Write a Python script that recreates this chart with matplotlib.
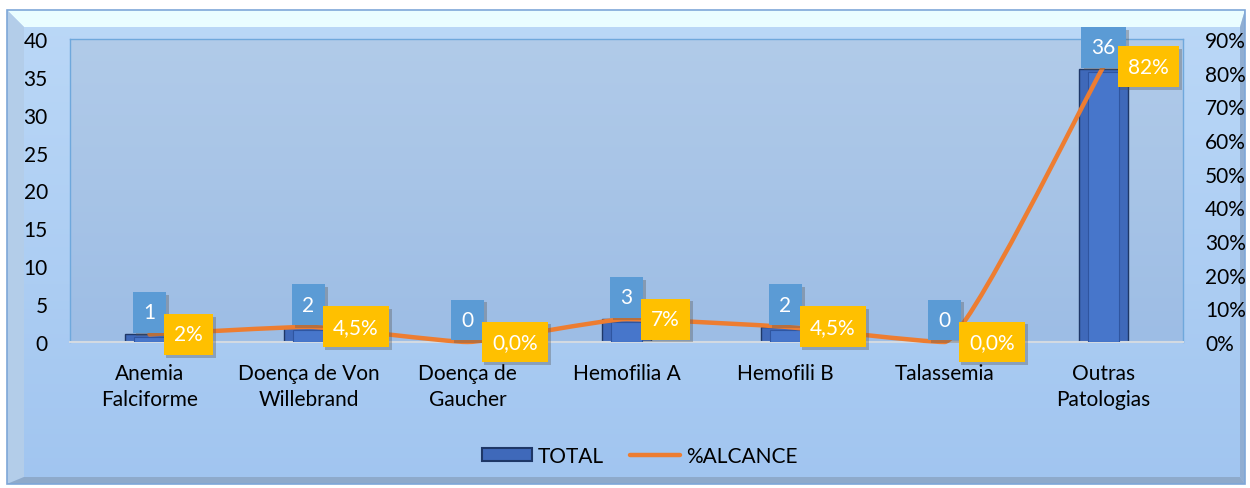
import matplotlib
matplotlib.use("Agg")
import matplotlib.pyplot as plt
import numpy as np
from matplotlib.path import Path
from matplotlib.patches import PathPatch, Polygon, Rectangle, Patch
from matplotlib.lines import Line2D
from matplotlib.colors import LinearSegmentedColormap
import matplotlib.patheffects as pe

categories = ["Anemia\nFalciforme", "Doença de Von\nWillebrand", "Doença de\nGaucher",
              "Hemofilia A", "Hemofili B", "Talassemia", "Outras\nPatologias"]
total = [1, 2, 0, 3, 2, 0, 36]
alcance = [0.0227, 0.045, 0.0, 0.068, 0.045, 0.0, 0.818]
alcance_labels = ["2%", "4,5%", "0,0%", "7%", "4,5%", "0,0%", "82%"]
left_ticks = [0, 5, 10, 15, 20, 25, 30, 35, 40]
right_ticks = [0, 0.1, 0.2, 0.3, 0.4, 0.5, 0.6, 0.7, 0.8, 0.9]
right_tick_labels = ["0%", "10%", "20%", "30%", "40%", "50%", "60%", "70%", "80%", "90%"]

W, H = 1250, 489
FONT = "Lato"
FS = 15
plt.rcParams['font.family'] = [FONT, 'DejaVu Sans']

fig = plt.figure(figsize=(W / 100, H / 100), dpi=100)
fig.patch.set_facecolor("white")

# background (chart area) in pixel coordinates
bg = fig.add_axes([0, 0, 1, 1])
bg.set_xlim(0, W)
bg.set_ylim(H, 0)
bg.axis("off")
x0, y0, x1, y1 = 7, 11, 1245, 485
grad = np.linspace(0, 1, 256).reshape(-1, 1)
cm_out = LinearSegmentedColormap.from_list("o", ["#BBD8F7", "#A1C5F0"])
bg.imshow(grad, cmap=cm_out, extent=(x0, x1, y1, y0), aspect="auto", zorder=0)
bt = 17
bg.add_patch(Polygon([(x0, y0), (x1, y0), (x1 - 5, y0 + bt), (x0 + bt, y0 + bt)],
                     closed=True, facecolor="#EAFDFF", edgecolor="none", zorder=1))
bg.add_patch(Polygon([(x0, y0), (x0 + bt, y0 + bt), (x0 + bt, y1 - 7), (x0, y1)],
                     closed=True, facecolor="#B3CDE9", edgecolor="none", zorder=1))
bg.add_patch(Polygon([(x0, y1), (x0 + bt, y1 - 7), (x1 - 5, y1 - 7), (x1, y1)],
                     closed=True, facecolor="#8EAACB", edgecolor="none", zorder=1))
bg.add_patch(Polygon([(x1, y0), (x1, y1), (x1 - 5, y1 - 7), (x1 - 5, y0 + bt)],
                     closed=True, facecolor="#90AED2", edgecolor="none", zorder=1))
bg.add_patch(Rectangle((x0, y0), x1 - x0, y1 - y0, facecolor="none",
                       edgecolor="#7EA7D8", lw=1.2, zorder=2))

# plot area
pl, pr, pt, pb = 70, 1183, 40, 343
ax = fig.add_axes([pl / W, (H - pb) / H, (pr - pl) / W, (pb - pt) / H])
ax.patch.set_alpha(0)
n = len(categories)
xs = np.arange(n)
ax.set_xlim(-0.5, n - 0.5)
ax.set_ylim(0, 40)
cm_in = LinearSegmentedColormap.from_list("i", ["#B1CBE9", "#9DBDE5"])
ax.imshow(grad, cmap=cm_in, extent=(-0.5, n - 0.5, 0, 40), aspect="auto", zorder=0)

bw = 0.31
ax.bar(xs, total, width=bw, color="#3F69BA", edgecolor="#1E3767", linewidth=1.0, zorder=2)
ax.bar(xs, [max(v - 0.35, 0) for v in total], width=bw * 0.62, color="#4776CB",
       edgecolor="#2F55A0", linewidth=0.8, zorder=3)

ax.set_yticks(left_ticks)
ax.set_yticklabels([str(t) for t in left_ticks], fontsize=FS, fontfamily=FONT, color="black")
ax.set_xticks(xs)
ax.set_xticklabels(categories, fontsize=FS, fontfamily=FONT, color="black", linespacing=1.4)
ax.tick_params(axis="both", length=0)
ax.tick_params(axis="y", pad=16)
ax.tick_params(axis="x", pad=15)
for s in ["left", "top", "right"]:
    ax.spines[s].set_color("#6FA8DC")
    ax.spines[s].set_linewidth(1.0)
ax.spines["bottom"].set_color("#D3DAE2")
ax.spines["bottom"].set_linewidth(1.5)

ax2 = ax.twinx()
ax2.set_ylim(0, 0.9)
ax2.set_yticks(right_ticks)
ax2.set_yticklabels(right_tick_labels, fontsize=FS, fontfamily=FONT, color="black")
ax2.tick_params(axis="y", length=0, pad=16)
for s in ax2.spines.values():
    s.set_visible(False)

# lightly smoothed line (cubic Bezier with limited tangents) in pixel-proportional space
sx = (pr - pl) / n
sy = (pb - pt) / 0.9
P = np.array([[x * sx, y * sy] for x, y in zip(xs, alcance)])
tang = []
for i in range(n):
    a = P[i - 1] if i > 0 else P[i]
    b = P[i + 1] if i + 1 < n else P[i]
    d = b - a
    if 0 < i < n - 1 and (P[i - 1][1] - P[i][1]) * (P[i + 1][1] - P[i][1]) >= 0:
        d = np.array([d[0], 0.0])  # local extremum -> flat tangent
    nd = np.linalg.norm(d)
    segs = []
    if i > 0:
        segs.append(np.linalg.norm(P[i] - P[i - 1]))
    if i + 1 < n:
        segs.append(np.linalg.norm(P[i + 1] - P[i]))
    tang.append(d / nd * min(segs) * 0.14 if nd > 0 else np.zeros(2))
verts = [tuple(P[0])]
codes = [Path.MOVETO]
for i in range(n - 1):
    c1 = P[i] + tang[i]
    c2 = P[i + 1] - tang[i + 1]
    verts += [tuple(c1), tuple(c2), tuple(P[i + 1])]
    codes += [Path.CURVE4] * 3
verts = [(vx / sx, vy / sy) for vx, vy in verts]
ax2.add_patch(PathPatch(Path(verts, codes), facecolor="none", edgecolor="#ED7D31",
                        lw=3.2, capstyle="round", joinstyle="round", zorder=4, clip_on=False))

shadow = [pe.withSimplePatchShadow(offset=(2, -2), shadow_rgbFace="#555555", alpha=0.35)]
PAD = 0.5
pad_px = PAD * FS * 100 / 72

# line labels
for x, y, lab in zip(xs, alcance, alcance_labels):
    t = ax2.annotate(lab, xy=(x, y), xytext=(14 + pad_px, 0), textcoords="offset pixels",
                     ha="left", va="center", fontsize=FS, fontfamily=FONT, color="white",
                     bbox=dict(boxstyle=f"square,pad={PAD}", facecolor="#FFC000", edgecolor="none"),
                     zorder=6)
    t.get_bbox_patch().set_path_effects(shadow)

# bar labels
for x, v in zip(xs, total):
    t = ax2.annotate(str(v), xy=(x, v), xycoords=ax.transData, xytext=(0, 12),
                     textcoords="offset pixels", ha="center", va="bottom",
                     fontsize=FS, fontfamily=FONT, color="white",
                     bbox=dict(boxstyle=f"square,pad={PAD}", facecolor="#5B9BD5", edgecolor="none"),
                     zorder=5)
    t.get_bbox_patch().set_path_effects(shadow)

# legend
handles = [Patch(facecolor="#3F69BA", edgecolor="#1E3767", linewidth=1.5),
           Line2D([0], [0], color="#ED7D31", lw=3.2, solid_capstyle="round")]
leg = fig.legend(handles, ["TOTAL", "%ALCANCE"], loc="center", bbox_to_anchor=(640 / W, (H - 457) / H),
                 ncol=2, frameon=False, prop={"family": FONT, "size": FS},
                 handlelength=2.4, handleheight=0.55, handletextpad=0.3, columnspacing=1.25)

fig.savefig("out.png", dpi=100, facecolor="white")
